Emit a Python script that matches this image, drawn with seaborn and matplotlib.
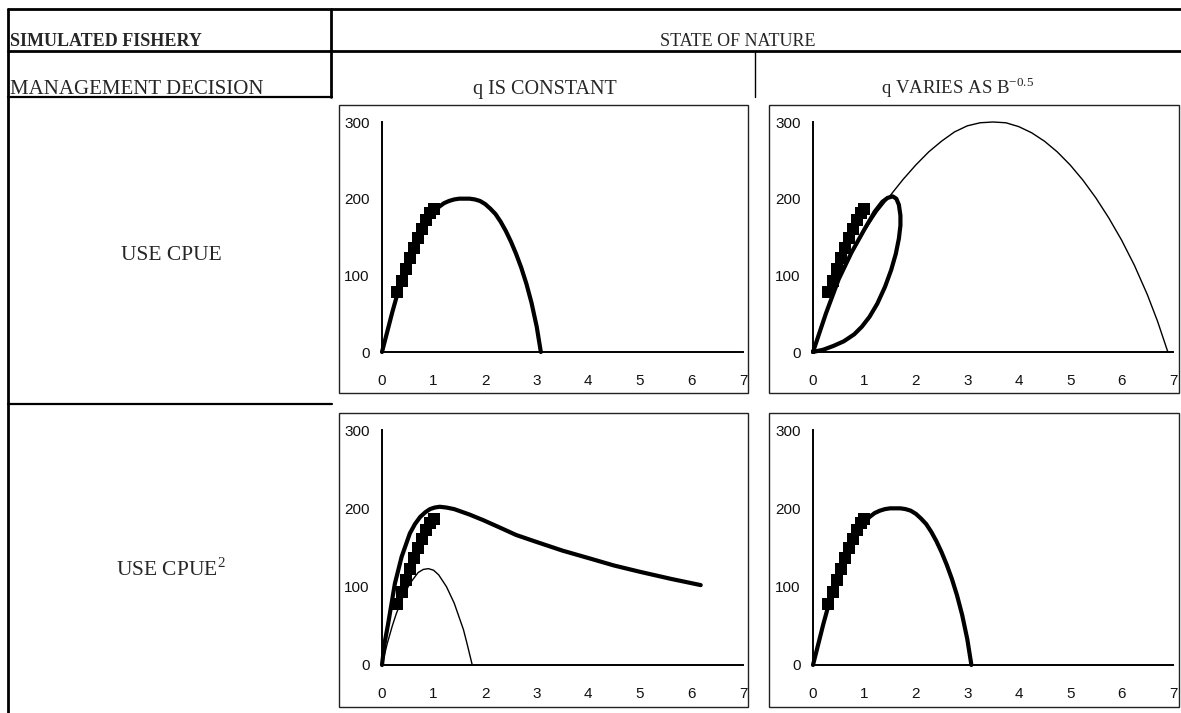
import matplotlib
matplotlib.use("Agg")
import matplotlib.pyplot as plt
import seaborn as sns
import pandas as pd
from matplotlib.lines import Line2D
from matplotlib.patches import Rectangle

# ---------------- data ----------------
# observed fishery points (squares), same in every panel
obs_x = [0.30, 0.38, 0.46, 0.54, 0.62, 0.70, 0.78, 0.86, 0.94, 1.00]
obs_y = [78, 93, 108, 122, 136, 149, 161, 172, 181, 187]

# thick fitted curve: q constant / use CPUE (also q varies / use CPUE^2)
fit_a_x = [0, 0.1, 0.2, 0.3, 0.4, 0.5, 0.6, 0.7, 0.8, 0.9, 1.0, 1.1, 1.2, 1.3, 1.4, 1.5,
           1.6, 1.7, 1.8, 1.9, 2.0, 2.1, 2.2, 2.3, 2.4, 2.5, 2.6, 2.7, 2.8, 2.9, 3.0, 3.08]
fit_a_y = [0, 26, 52, 76, 96, 114, 131, 146, 159, 171, 182, 189, 194, 197, 199, 200,
           200, 200, 199, 197, 193, 187, 180, 170, 158, 144, 128, 110, 89, 64, 33, 0]

# thin true curve: q varies as B^-0.5
true_b_x = [0, 0.25, 0.5, 0.75, 1.0, 1.25, 1.5, 1.75, 2.0, 2.25, 2.5, 2.75, 3.0, 3.25, 3.5,
            3.75, 4.0, 4.25, 4.5, 4.75, 5.0, 5.25, 5.5, 5.75, 6.0, 6.25, 6.5, 6.7, 6.9]
true_b_y = [0, 50, 95, 128, 158, 183, 204, 225, 244, 261, 275, 287, 295, 299, 300,
            299, 294, 286, 275, 261, 244, 224, 201, 175, 146, 113, 75, 40, 0]

# thick fitted loop: q varies / use CPUE
fit_b_x = [0, 0.25, 0.5, 0.75, 1.0, 1.2, 1.35, 1.45, 1.55, 1.62, 1.67, 1.70, 1.70, 1.67,
           1.61, 1.52, 1.40, 1.25, 1.10, 0.95, 0.80, 0.60, 0.40, 0.20, 0]
fit_b_y = [0, 50, 95, 130, 160, 183, 196, 201, 203, 200, 192, 178, 165, 148,
           128, 107, 85, 63, 46, 33, 23, 14, 8, 3, 0]

# thick fitted curve: q constant / use CPUE^2
fit_c_x = [0, 0.05, 0.12, 0.25, 0.38, 0.54, 0.64, 0.74, 0.84, 0.93, 1.02, 1.12, 1.25, 1.4,
           1.7, 1.96, 2.3, 2.6, 3.0, 3.5, 4.03, 4.5, 5.0, 5.6, 6.18]
fit_c_y = [0, 28, 53, 104, 138, 168, 180, 189, 195, 199, 201, 202, 201, 199,
           192, 185, 175, 166, 157, 146, 136, 127, 119, 110, 102]

# thin true curve: q constant / use CPUE^2
true_c_x = [0, 0.1, 0.2, 0.28, 0.4, 0.54, 0.7, 0.8, 0.9, 1.0, 1.1, 1.25, 1.4, 1.58, 1.65, 1.75]
true_c_y = [0, 27, 50, 66, 86, 104, 118, 122, 123, 121, 115, 100, 79, 45, 27, 0]

x_ticks = [0, 1, 2, 3, 4, 5, 6, 7]
y_ticks = [0, 100, 200, 300]

header_left_top = "SIMULATED FISHERY"
header_right_top = "STATE OF NATURE"
header_left_bottom = "MANAGEMENT DECISION"
col_labels = ["q IS CONSTANT", r"q VARIES AS B$^{\mathregular{-0.5}}$"]
row_labels = ["USE CPUE", r"USE CPUE$^{\mathregular{2}}$"]

# ---------------- figure ----------------
sns.set_style("white")
plt.rcParams["font.family"] = ["Liberation Sans", "DejaVu Sans"]
plt.rcParams["axes.unicode_minus"] = False

W, H = 1181, 713
fig = plt.figure(figsize=(W / 100, H / 100), dpi=100)
fig.patch.set_facecolor("white")


def fx(px):
    return px / W


def fy(py):
    return 1 - py / H


def hline(y, x0, x1, lw=1.6, color="black"):
    fig.add_artist(Line2D([fx(x0), fx(x1)], [fy(y), fy(y)], color=color, lw=lw,
                          transform=fig.transFigure))


def vline(x, y0, y1, lw=1.6, color="black"):
    fig.add_artist(Line2D([fx(x), fx(x)], [fy(y0), fy(y1)], color=color, lw=lw,
                          transform=fig.transFigure))


# table lines
hline(9, 8, 1181, lw=2.0)
vline(8, 9, 713, lw=2.0)
vline(331, 9, 97, lw=2.0)
hline(51, 8, 1181, lw=2.0)
hline(97, 8, 332, lw=1.6)
vline(755, 51, 97, lw=1.0)
hline(404, 8, 332, lw=1.6)

serif = ["Liberation Serif", "DejaVu Serif"]
fig.text(fx(10), fy(46), header_left_top, family=serif, fontsize=13, fontweight="bold",
         va="baseline", ha="left")
fig.text(fx(738), fy(46), header_right_top, family=serif, fontsize=13, va="baseline",
         ha="center")
fig.text(fx(10), fy(94), header_left_bottom, family=serif, fontsize=15, va="baseline",
         ha="left")
fig.text(fx(545), fy(94), col_labels[0], family=serif, fontsize=14.5, va="baseline",
         ha="center")
fig.text(fx(958), fy(94), col_labels[1], family=serif, fontsize=13.5, va="baseline",
         ha="center")
fig.text(fx(171), fy(256), row_labels[0], family=serif, fontsize=15.5, va="center",
         ha="center")
fig.text(fx(171), fy(569), row_labels[1], family=serif, fontsize=15.5, va="center",
         ha="center")

# panel geometry in pixels: (frame box), (axes box)
panels = {
    "A": ((339, 105, 748, 393), (382, 122, 743, 352)),
    "B": ((769, 105, 1179, 393), (813, 122, 1173, 352)),
    "C": ((339, 413, 748, 707), (382, 430, 743, 665)),
    "D": ((769, 413, 1179, 707), (813, 430, 1173, 665)),
}

obs_df = pd.DataFrame({"x": obs_x, "y": obs_y})


def curve(ax, xs, ys, lw):
    df = pd.DataFrame({"x": xs, "y": ys})
    sns.lineplot(data=df, x="x", y="y", ax=ax, sort=False, estimator=None,
                 color="black", lw=lw, solid_capstyle="round", solid_joinstyle="round")


axes = {}
for key, (frame, box) in panels.items():
    fl, ft, fr, fb = frame
    fig.add_artist(Rectangle((fx(fl), fy(fb)), fx(fr) - fx(fl), fy(ft) - fy(fb),
                             transform=fig.transFigure, fill=False, edgecolor="#222222",
                             lw=1.0))
    l, t, r, b = box
    ax = fig.add_axes([fx(l), fy(b), fx(r) - fx(l), fy(t) - fy(b)])
    ax.set_facecolor("none")
    axes[key] = ax

curve(axes["A"], fit_a_x, fit_a_y, 3.0)

curve(axes["B"], true_b_x, true_b_y, 1.0)
curve(axes["B"], fit_b_x, fit_b_y, 3.0)

curve(axes["C"], true_c_x, true_c_y, 1.0)
curve(axes["C"], fit_c_x, fit_c_y, 3.0)

curve(axes["D"], fit_a_x, fit_a_y, 3.0)

for key, ax in axes.items():
    sns.scatterplot(data=obs_df, x="x", y="y", ax=ax, marker="s", s=64, color="black",
                    edgecolor="black", linewidth=0, zorder=5)
    ax.set_xlim(0, 7)
    ax.set_ylim(0, 300)
    ax.set_xticks(x_ticks)
    ax.set_yticks(y_ticks)
    ax.set_xlabel("")
    ax.set_ylabel("")
    for s in ["top", "right"]:
        ax.spines[s].set_visible(False)
    for s in ["left", "bottom"]:
        ax.spines[s].set_linewidth(1.4)
        ax.spines[s].set_color("black")
    ax.tick_params(axis="both", direction="inout", length=8, width=1.4, color="black",
                   labelsize=11, labelcolor="#111111")
    ax.tick_params(axis="x", pad=12)
    ax.tick_params(axis="y", pad=5)
    for line in ax.get_lines():
        line.set_clip_on(False)
    for coll in ax.collections:
        coll.set_clip_on(False)

fig.savefig("out.png", dpi=100, facecolor="white")
